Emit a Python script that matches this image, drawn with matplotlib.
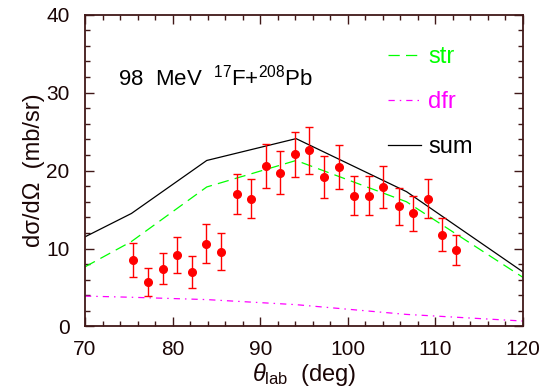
import matplotlib
matplotlib.use("Agg")
import matplotlib.pyplot as plt
from matplotlib.ticker import MultipleLocator

plt.rcParams['font.family'] = ['Liberation Sans', 'DejaVu Sans']
plt.rcParams['mathtext.fontset'] = 'custom'
plt.rcParams['mathtext.rm'] = 'Liberation Sans'
plt.rcParams['mathtext.it'] = 'Liberation Sans:italic'

# measured cross sections
theta_exp = [75.5, 77.2, 78.9, 80.5, 82.2, 83.8, 85.5, 87.4, 89.0, 90.7, 92.3, 94.0,
             95.6, 97.3, 99.0, 100.7, 102.4, 104.0, 105.8, 107.4, 109.2, 110.8, 112.4]
sigma_exp = [8.5, 5.7, 7.4, 9.2, 7.0, 10.6, 9.6, 17.0, 16.4, 20.6, 19.7, 22.1,
             22.6, 19.2, 20.5, 16.8, 16.8, 17.9, 15.4, 14.5, 16.4, 11.8, 9.8]
sigma_err = [2.2, 1.8, 2.0, 2.3, 2.0, 2.5, 2.35, 2.6, 2.5, 2.8, 2.75, 2.9,
             3.0, 2.7, 2.8, 2.5, 2.5, 2.65, 2.35, 2.3, 2.5, 2.15, 1.95]

# calculations: stripping, diffraction and their sum
theta_calc = [70, 75.3, 83.9, 94.1, 106.7, 120]
sigma_str = [7.65, 10.9, 17.9, 21.3, 16.0, 6.3]
sigma_dfr = [3.9, 3.75, 3.45, 2.8, 1.55, 0.7]
sigma_sum = [11.5, 14.5, 21.3, 24.1, 17.3, 7.0]

frame = '#401818'
ink = '#1a0505'

fig = plt.figure(figsize=(5.4, 3.89), dpi=100)
ax = fig.add_axes([0.1574, 0.1607, 0.8111, 0.8015])

ax.plot(theta_calc, sigma_str, color='#00ff00', lw=0.9, dashes=(9, 5), label='str')
ax.plot(theta_calc, sigma_dfr, color='#ff00ff', lw=0.9, dashes=(5, 4, 1.2, 4), label='dfr')
ax.plot(theta_calc, sigma_sum, color='black', lw=0.9, label='sum')

ax.errorbar(theta_exp, sigma_exp, yerr=sigma_err, fmt='o', color='red',
            ms=5.5, elinewidth=1.0, capsize=2.7, capthick=1.0)

ax.text(73.8, 30.9, r'98  MeV  $^{17}$F+$^{208}$Pb', fontsize=16, color='black')

leg = ax.legend(loc='upper left', bbox_to_anchor=(0.692, 0.9), frameon=False,
                fontsize=17, handlelength=1.4, handletextpad=0.3,
                labelspacing=0.98, borderpad=0, borderaxespad=0)
for txt, line in zip(leg.get_texts(), leg.get_lines()):
    txt.set_color(line.get_color())

ax.set_xlim(70, 120)
ax.set_ylim(0, 40)
ax.xaxis.set_major_locator(MultipleLocator(10))
ax.xaxis.set_minor_locator(MultipleLocator(2))
ax.yaxis.set_major_locator(MultipleLocator(10))
ax.yaxis.set_minor_locator(MultipleLocator(2))
ax.tick_params(which='both', direction='in', top=True, right=True,
               color=frame, width=1.0, labelcolor=ink, labelsize=15)
ax.tick_params(which='major', length=6.5)
ax.tick_params(which='minor', length=3.5)
ax.tick_params(axis='x', pad=10)
ax.tick_params(axis='y', pad=11)
for s in ax.spines.values():
    s.set_color(frame)
    s.set_linewidth(1.3)

ax.set_xlabel(r'$\theta_{\rm lab}$  (deg)', fontsize=17, color=ink, labelpad=1)
ax.set_ylabel('dσ/dΩ  (mb/sr)', fontsize=17, color=ink, labelpad=1)

fig.savefig('out.png', dpi=100)
